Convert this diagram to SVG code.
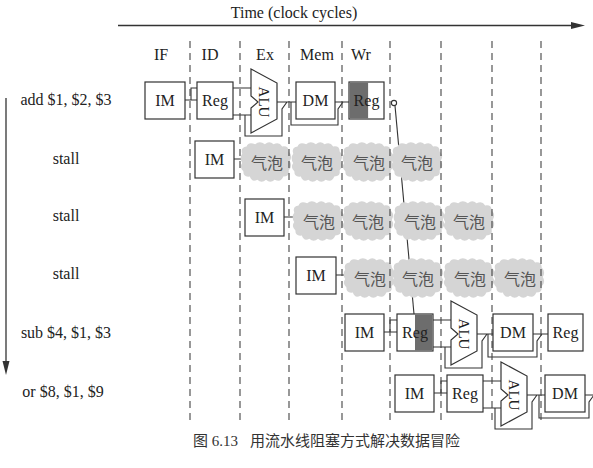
<svg xmlns="http://www.w3.org/2000/svg" width="593" height="468" viewBox="0 0 593 468">
<style>
.box{fill:#fff;stroke:#333;stroke-width:1.2}
.dark{fill:#6d6d6d}
.lbl{font-family:"Liberation Serif",serif;font-size:16px;fill:#222;text-anchor:middle}
.alu{font-family:"Liberation Serif",serif;font-size:15px;fill:#222;text-anchor:middle}
.ln{fill:none;stroke:#333;stroke-width:1.1}
.dash{stroke:#444;stroke-width:1.1;stroke-dasharray:7 5}
.cloud{fill:#d5d5d5}
.bub{font-family:"Noto Sans CJK SC",sans-serif;font-size:16px;fill:#555;text-anchor:middle}
.cap{font-family:"Liberation Serif","Noto Sans CJK SC",serif;font-size:15px;fill:#333}
</style>
<defs>
<path id="cloud" transform="scale(1.08,1.04)" d="M-22,-8 Q-24,-14 -18,-15 Q-16,-20 -10,-17 Q-6,-21 -1,-17 Q3,-21 7,-17 Q12,-20 15,-15 Q21,-16 21,-10 Q25,-6 22,-1 Q25,4 21,8 Q22,14 16,14 Q14,20 8,17 Q4,21 0,17 Q-4,21 -8,17 Q-13,20 -15,14 Q-21,15 -21,9 Q-25,5 -22,1 Q-25,-4 -22,-8 Z"/>
</defs>
<rect width="593" height="468" fill="#fff"/>

<g id="axes">
<line x1="118" y1="25.5" x2="572" y2="25.5" stroke="#333" stroke-width="1.3"/>
<polygon points="585,25.5 571,22 571,29" fill="#333"/>
<text class="lbl" x="294" y="18">Time (clock cycles)</text>
<line x1="6" y1="98" x2="6" y2="362" stroke="#333" stroke-width="1.3"/>
<polygon points="6,375 2.5,361 9.5,361" fill="#333"/>
<text class="lbl" x="161" y="60">IF</text>
<text class="lbl" x="210" y="60">ID</text>
<text class="lbl" x="265" y="60">Ex</text>
<text class="lbl" x="317" y="60">Mem</text>
<text class="lbl" x="361" y="60">Wr</text>
<text class="lbl" x="66" y="105">add $1, $2, $3</text>
<text class="lbl" x="66" y="164">stall</text>
<text class="lbl" x="66" y="221">stall</text>
<text class="lbl" x="66" y="279">stall</text>
<text class="lbl" x="66" y="338">sub $4, $1, $3</text>
<text class="lbl" x="63" y="397">or $8, $1, $9</text>
</g>

<g id="connectors">
<g id="dependency">
<circle cx="394" cy="103" r="2.6" fill="#fff" stroke="#333" stroke-width="1.1"/>
<line class="ln" x1="395" y1="105.6" x2="414" y2="314"/>
</g>
<path class="ln" d="M185,100 H197 M191,100 V88 H197 M233,88 H251 M233,115 H251 M245,115 V136 H282 V109 L287,102 M277,102 H296 M291,102 V125 H338 V109 L343,102 M335,102 H349"/>
<path class="ln" d="M234,159 H244 M284,217 H294 M336,275 H346"/>
<path class="ln" d="M384,332 H397 M390,332 V320 H397 M433,320 H451 M433,347 H451 M445,347 V368 H482 V341 L487,334 M477,334 H493 M488,334 V357 H537 V341 L542,334 M533,334 H548"/>
<path class="ln" d="M434,393 H447 M441,393 V381 H447 M483,381 H501 M483,408 H501 M495,408 V429 H532 V402 L537,395 M527,395 H545 M539,395 V418 H589 V402 L594,395 M585,395 H600"/>
</g>

<g id="bubbles">
<g id="stall1-bubbles">
<use href="#cloud" class="cloud" x="266" y="162"/><use href="#cloud" class="cloud" x="317" y="162"/><use href="#cloud" class="cloud" x="368" y="162"/><use href="#cloud" class="cloud" x="417" y="162"/>
<text class="bub" x="267" y="169">气泡</text><text class="bub" x="317" y="169">气泡</text><text class="bub" x="369" y="169">气泡</text><text class="bub" x="417" y="169">气泡</text>
</g>
<g id="stall2-bubbles">
<use href="#cloud" class="cloud" x="318" y="221"/><use href="#cloud" class="cloud" x="368" y="221"/><use href="#cloud" class="cloud" x="419" y="221"/><use href="#cloud" class="cloud" x="469" y="221"/>
<text class="bub" x="319" y="228">气泡</text><text class="bub" x="368" y="228">气泡</text><text class="bub" x="420" y="228">气泡</text><text class="bub" x="469" y="228">气泡</text>
</g>
<g id="stall3-bubbles">
<use href="#cloud" class="cloud" x="369" y="278"/><use href="#cloud" class="cloud" x="418" y="278"/><use href="#cloud" class="cloud" x="469" y="278"/><use href="#cloud" class="cloud" x="519" y="278"/>
<text class="bub" x="370" y="285">气泡</text><text class="bub" x="418" y="285">气泡</text><text class="bub" x="470" y="285">气泡</text><text class="bub" x="520" y="285">气泡</text>
</g>
</g>

<g id="grid">
<line class="dash" x1="190" y1="41" x2="190" y2="425"/>
<line class="dash" x1="240" y1="41" x2="240" y2="425"/>
<line class="dash" x1="289" y1="41" x2="289" y2="425"/>
<line class="dash" x1="342" y1="41" x2="342" y2="425"/>
<line class="dash" x1="390" y1="41" x2="390" y2="425"/>
<line class="dash" x1="441" y1="41" x2="441" y2="425"/>
<line class="dash" x1="492" y1="41" x2="492" y2="425"/>
<line class="dash" x1="541" y1="41" x2="541" y2="425"/>
</g>

<g id="add-IM"><rect class="box" x="145" y="82" width="40" height="37"/><text class="lbl" x="165" y="106">IM</text></g>
<g id="add-Reg"><rect class="box" x="197" y="82" width="36" height="37"/><text class="lbl" x="215" y="106">Reg</text></g>
<g id="add-ALU"><polygon class="box" points="251,69 277,83 277,119 251,133 251,108 258,102 251,96"/><text class="alu" transform="translate(264,102) rotate(90)" y="5">ALU</text></g>
<g id="add-DM"><rect class="box" x="296" y="82" width="39" height="37"/><text class="lbl" x="315.5" y="106">DM</text></g>
<g id="add-RegW"><rect class="box" x="349" y="82" width="35" height="37"/><rect class="dark" x="349.6" y="82.6" width="18.5" height="35.8"/><text class="lbl" x="366.5" y="106">Reg</text></g>

<g id="stall1-IM"><rect class="box" x="195" y="141" width="39" height="37"/><text class="lbl" x="214.5" y="165">IM</text></g>
<g id="stall2-IM"><rect class="box" x="245" y="199" width="39" height="37"/><text class="lbl" x="264.5" y="223">IM</text></g>
<g id="stall3-IM"><rect class="box" x="296" y="257" width="40" height="37"/><text class="lbl" x="316" y="281">IM</text></g>

<g id="sub-IM"><rect class="box" x="345" y="314" width="39" height="37"/><text class="lbl" x="364.5" y="338">IM</text></g>
<g id="sub-Reg"><rect class="box" x="397" y="314" width="36" height="37"/><rect class="dark" x="415" y="314.6" width="17.4" height="35.8"/><text class="lbl" x="415" y="338">Reg</text></g>
<g id="sub-ALU"><polygon class="box" points="451,301 477,315 477,351 451,365 451,340 458,334 451,328"/><text class="alu" transform="translate(464,334) rotate(90)" y="5">ALU</text></g>
<g id="sub-DM"><rect class="box" x="493" y="314" width="40" height="37"/><text class="lbl" x="513" y="338">DM</text></g>
<g id="sub-RegW"><rect class="box" x="548" y="314" width="35" height="37"/><text class="lbl" x="565.5" y="338">Reg</text></g>

<g id="or-IM"><rect class="box" x="395" y="375" width="39" height="37"/><text class="lbl" x="414.5" y="399">IM</text></g>
<g id="or-Reg"><rect class="box" x="447" y="375" width="36" height="37"/><text class="lbl" x="465" y="399">Reg</text></g>
<g id="or-ALU"><polygon class="box" points="501,362 527,376 527,412 501,426 501,401 508,395 501,389"/><text class="alu" transform="translate(514,395) rotate(90)" y="5">ALU</text></g>
<g id="or-DM"><rect class="box" x="545" y="375" width="40" height="37"/><text class="lbl" x="565" y="399">DM</text></g>

<g id="caption">
<text class="cap" x="193" y="446">图 6.13</text>
<text class="cap" x="250" y="446">用流水线阻塞方式解决数据冒险</text>
</g>
</svg>
